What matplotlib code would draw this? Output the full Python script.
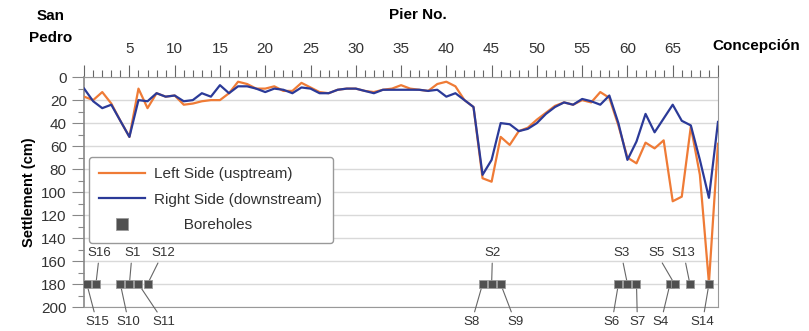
import matplotlib.pyplot as plt
from matplotlib.ticker import MultipleLocator, FixedLocator, FixedFormatter

plt.rcParams['font.family'] = ['Liberation Sans', 'DejaVu Sans']

# settlement per pier (cm), piers 0..70
piers = list(range(71))
left_side = [17, 20, 13, 23, 38, 52, 10, 27, 14, 17,
             16, 24, 23, 21, 20, 20, 14, 4, 6, 10,
             10, 8, 12, 12, 5, 9, 13, 14, 11, 10,
             10, 12, 13, 11, 10, 7, 10, 11, 12, 6,
             4, 8, 20, 26, 88, 91, 52, 59, 47, 44,
             37, 31, 25, 22, 24, 20, 22, 13, 18, 42,
             70, 75, 57, 62, 55, 108, 104, 43, 85, 179,
             58]
right_side = [10, 21, 27, 24, 38, 52, 20, 21, 14, 17,
              16, 21, 20, 14, 17, 7, 14, 8, 8, 10,
              13, 10, 11, 14, 9, 10, 14, 14, 11, 10,
              10, 12, 14, 11, 11, 11, 11, 11, 12, 11,
              17, 14, 20, 26, 85, 72, 40, 41, 47, 45,
              40, 32, 26, 22, 24, 19, 21, 24, 16, 40,
              72, 56, 32, 48, 36, 24, 38, 42, 72, 105,
              39]

# boreholes: name, pier, label position, label above?
bh_names = ['S15', 'S16', 'S10', 'S1', 'S11', 'S12', 'S8', 'S2', 'S9',
            'S6', 'S3', 'S7', 'S4', 'S5', 'S13', 'S14']
bh_piers = [0.3, 1.3, 4, 5, 6, 7, 44, 45, 46, 59, 60, 61, 64.7, 65.2, 66.9, 69]
bh_label_x = [1.4, 1.7, 4.9, 5.3, 8.8, 8.7, 42.8, 45.1, 47.6,
              58.3, 59.3, 61.1, 63.7, 63.2, 66.2, 68.3]
bh_above = [False, True, False, True, False, True, False, True, False,
            False, True, False, False, True, True, False]
bh_depth = 180

orange = '#EF7B36'
blue = '#2B3A98'

fig = plt.figure(figsize=(8.09, 3.31), dpi=100)
ax = fig.add_axes([0.104, 0.0725, 0.7835, 0.6945])

ax.plot(piers, left_side, color=orange, lw=1.6, label='Left Side (usptream)', zorder=3)
ax.plot(piers, right_side, color=blue, lw=1.6, label='Right Side (downstream)', zorder=4)
ax.plot(bh_piers, [bh_depth] * len(bh_piers), 's', color='#505050', ms=6,
        mec='#9a9a9a', mew=0.6, ls='none', label='       Boreholes', zorder=5)

for name, p, lx, up in zip(bh_names, bh_piers, bh_label_x, bh_above):
    ly = 153 if up else 213
    ax.annotate(name, xy=(p, bh_depth), xytext=(lx, ly), ha='center', va='center',
                fontsize=9.5, color='#333333', annotation_clip=False,
                arrowprops=dict(arrowstyle='-', color='#666666', lw=0.8,
                                shrinkA=1, shrinkB=2))

ax.set_xlim(0, 70)
ax.set_ylim(200, 0)

ax.xaxis.tick_top()
ax.xaxis.set_major_locator(FixedLocator(range(0, 71, 5)))
ax.xaxis.set_major_formatter(FixedFormatter([''] + [str(v) for v in range(5, 70, 5)] + ['']))
ax.xaxis.set_minor_locator(MultipleLocator(1))
ax.yaxis.set_major_locator(MultipleLocator(20))
ax.yaxis.set_minor_locator(MultipleLocator(10))
ax.tick_params(axis='x', which='major', length=9, width=0.8, color='#666666',
               labelsize=11, pad=6, labelcolor='#333333')
ax.tick_params(axis='x', which='minor', length=5, width=0.8, color='#666666')
ax.tick_params(axis='y', which='major', length=9, width=0.8, color='#888888',
               labelsize=11, labelcolor='#333333')
ax.tick_params(axis='y', which='minor', length=4, width=0.8, color='#888888')

ax.grid(axis='y', which='major', color='#d9d9d9', lw=1)
ax.set_axisbelow(True)
for side in ['top', 'bottom', 'right']:
    ax.spines[side].set_color('#999999')
ax.spines['left'].set_color('#888888')
ax.spines['left'].set_linewidth(1.2)

ax.set_ylabel('Settlement (cm)', fontsize=10.5, fontweight='bold', labelpad=4)

fig.text(0.517, 0.955, 'Pier No.', ha='center', va='center', fontsize=11, fontweight='bold')
fig.text(0.062, 0.918, 'San\nPedro', ha='center', va='center', fontsize=11,
         fontweight='bold', linespacing=1.75)
fig.text(0.935, 0.862, 'Concepción', ha='center', va='center', fontsize=11, fontweight='bold')

leg = ax.legend(loc='upper left', bbox_to_anchor=(0.1, 0.55),
                bbox_transform=fig.transFigure, fontsize=11, handlelength=3,
                handletextpad=0.6, labelspacing=0.75, borderpad=0.7,
                markerscale=1.4, fancybox=True, edgecolor='#999999', framealpha=1)
for t in leg.get_texts():
    t.set_color('#333333')

fig.savefig('out.png', dpi=100)
